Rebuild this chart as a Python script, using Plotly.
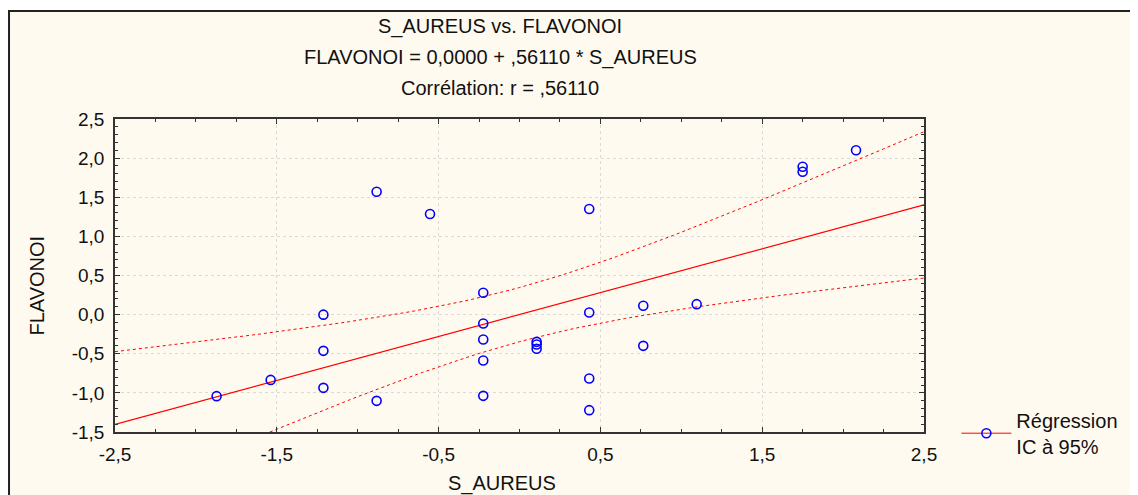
import numpy as np
import plotly.graph_objects as go

# Standardized values
s_aureus = [-1.872, -1.538, -1.212, -1.212, -1.212, -0.883, -0.883, -0.553,
            -0.224, -0.224, -0.224, -0.224, -0.224, 0.106, 0.106, 0.106,
            0.431, 0.431, 0.431, 0.431, 0.765, 0.765, 1.095, 1.75, 1.75, 2.08]
flavonoi = [-1.042, -0.834, 0.0, -0.463, -0.936, 1.571, -1.102, 1.285,
            0.279, -0.113, -0.318, -0.586, -1.038, -0.348, -0.381, -0.437,
            1.349, 0.028, -0.816, -1.221, 0.113, -0.399, 0.134, 1.89, 1.826, 2.10]

# Fit reported in the chart title
intercept = 0.0
slope = 0.56110
t_crit = 2.0639  # Student t, 24 df, 95 %

x_tickvals = [-2.5, -1.5, -0.5, 0.5, 1.5, 2.5]
x_ticktext = ["-2,5", "-1,5", "-0,5", "0,5", "1,5", "2,5"]
y_tickvals = [-1.5, -1.0, -0.5, 0.0, 0.5, 1.0, 1.5, 2.0, 2.5]
y_ticktext = ["-1,5", "-1,0", "-0,5", "0,0", "0,5", "1,0", "1,5", "2,0", "2,5"]

# Regression line and 95 % confidence band
x = np.array(s_aureus)
y = np.array(flavonoi)
n = len(x)
resid = y - (intercept + slope * x)
s = np.sqrt(np.sum(resid ** 2) / (n - 2))
sxx = np.sum((x - x.mean()) ** 2)
xs = np.linspace(-2.5, 2.5, 101)
ys = intercept + slope * xs
half = t_crit * s * np.sqrt(1 / n + (xs - x.mean()) ** 2 / sxx)

red = '#FF0000'
blue = '#0000FF'
cream = '#FFFAEF'
font_main = 'Liberation Sans, Arial'

fig = go.Figure()

fig.add_trace(go.Scatter(x=xs, y=ys + half, mode='lines',
                         line=dict(color=red, width=1, dash='dot'),
                         showlegend=False, hoverinfo='skip'))
fig.add_trace(go.Scatter(x=xs, y=ys - half, mode='lines',
                         line=dict(color=red, width=1, dash='dot'),
                         showlegend=False, hoverinfo='skip'))
fig.add_trace(go.Scatter(x=xs, y=ys, mode='lines',
                         line=dict(color=red, width=1.2),
                         showlegend=False, hoverinfo='skip'))
fig.add_trace(go.Scatter(x=s_aureus, y=flavonoi, mode='markers',
                         marker=dict(symbol='circle-open', size=9, color=blue,
                                     line=dict(width=1.6, color=blue)),
                         showlegend=False))

# legend entry combining line and symbol
fig.add_trace(go.Scatter(x=[None], y=[None], mode='lines+markers',
                         line=dict(color=red, width=1),
                         marker=dict(symbol='circle-open', size=9, color=blue,
                                     line=dict(width=1.6, color=blue)),
                         name='Régression<br>IC à 95%'))

axis_common = dict(
    showline=True, linecolor='#333333', linewidth=1.5, mirror='ticks',
    ticks='inside', ticklen=5, tickcolor='#333333',
    showgrid=True, gridcolor='#DADADA', griddash='dot', gridwidth=1,
    zeroline=False,
    tickfont=dict(family=font_main, size=19, color='#111111'),
)

fig.update_xaxes(range=[-2.5, 2.5], tickvals=x_tickvals, ticktext=x_ticktext,
                 minor=dict(dtick=0.25, tick0=-2.5, ticks='inside', ticklen=3,
                            tickcolor='#333333', showgrid=False),
                 ticklabelstandoff=4, **axis_common)
fig.update_yaxes(range=[-1.5, 2.5], tickvals=y_tickvals, ticktext=y_ticktext,
                 minor=dict(dtick=0.1, tick0=-1.5, ticks='inside', ticklen=3,
                            tickcolor='#333333', showgrid=False),
                 ticklabelstandoff=5, **axis_common)

titles = [("S_AUREUS vs. FLAVONOI", 1.297),
          ("FLAVONOI = 0,0000 + ,56110 * S_AUREUS", 1.198),
          ("Corrélation: r = ,56110", 1.1),]
annotations = [dict(text=t, x=0.476, y=yy, xref='paper', yref='paper',
                    showarrow=False, xanchor='center', yanchor='middle',
                    font=dict(family=font_main, size=20, color='#111111'))
               for t, yy in titles]
annotations.append(dict(text='S_AUREUS', x=0.478, y=-0.163, xref='paper', yref='paper',
                        showarrow=False, xanchor='center', yanchor='middle',
                        font=dict(family=font_main, size=20, color='#111111')))
annotations.append(dict(text='FLAVONOI', x=-0.0958, y=0.4696, xref='paper', yref='paper',
                        showarrow=False, textangle=-90, xanchor='center', yanchor='middle',
                        font=dict(family=font_main, size=20, color='#111111')))

# page has an 8 px body margin, so the figure is drawn 8 px in from the corner
fig.update_layout(
    width=1130, height=487,
    margin=dict(l=107, r=214, t=111, b=63),
    paper_bgcolor='white',
    plot_bgcolor='white',
    annotations=annotations,
    legend=dict(x=1.04, y=0.1, xanchor='left', yanchor='top',
                bgcolor='rgba(0,0,0,0)', itemwidth=50,
                font=dict(family=font_main, size=20, color='#111111')),
    shapes=[dict(type='rect', xref='paper', yref='paper',
                 x0=-0.1310, x1=1.5, y0=-0.5, y1=1.345,
                 fillcolor=cream, line=dict(color='#222222', width=2),
                 layer='below')],
)

fig.write_html("out.html")
